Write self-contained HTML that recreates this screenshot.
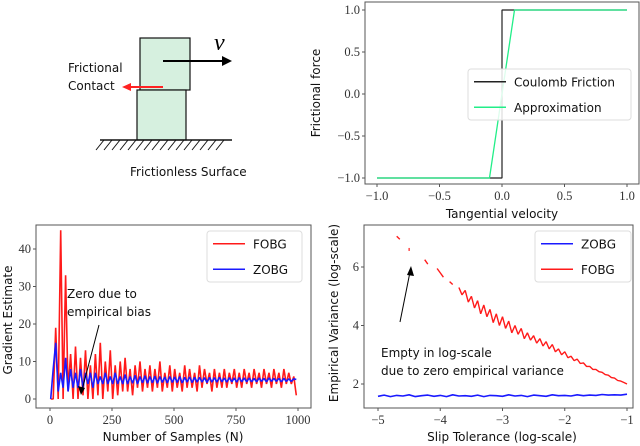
<!DOCTYPE html>
<html><head><meta charset="utf-8"><style>
body{margin:0;background:#fff;width:640px;height:446px;overflow:hidden}
svg{position:absolute;left:0;top:0}
.tk{font-family:"Liberation Serif",serif;font-size:12.5px;fill:#333}
.lb{font-family:"DejaVu Sans","Liberation Sans",sans-serif;font-size:12px;fill:#111}
.lg{font-family:"DejaVu Sans","Liberation Sans",sans-serif;font-size:12px;fill:#111}
</style></head><body>
<svg id="s" width="640" height="446" xmlns="http://www.w3.org/2000/svg">
<g>
<rect x="140" y="38" width="50" height="52" fill="#d6f0df" stroke="#111" stroke-width="1.2"/>
<rect x="137" y="90" width="49" height="50" fill="#d6f0df" stroke="#111" stroke-width="1.2"/>
<line x1="100" y1="140" x2="232" y2="140" stroke="#111" stroke-width="1.5"/>
<g id="hatch" stroke="#111" stroke-width="1"></g>
<line x1="163" y1="61" x2="224" y2="61" stroke="#000" stroke-width="2"/>
<polygon points="232,61 222,56 222,66" fill="#000"/>
<text x="214" y="50" font-family="Liberation Serif,serif" font-style="italic" font-size="24" fill="#000">v</text>
<line x1="163" y1="87" x2="130" y2="87" stroke="#f22" stroke-width="2"/>
<polygon points="122,87 131,83 131,91" fill="#f22"/>
<text x="68" y="72" class="lb" font-size="11">Frictional</text>
<text x="68" y="90" class="lb" font-size="11">Contact</text>
<text x="130" y="176" class="lb" font-size="11">Frictionless Surface</text>
</g>
<g id="c1"></g>
<g id="c2"></g>
<g id="c3"></g>
</svg>
<script>
// ---- data ----
const fricX = [-1.0, 0.0, 0.0, 1.0];
const coulombY = [-1, -1, 1, 1];
const approxX = [-1.0, -0.1, 0.1, 1.0];
const approxY = [-1, -1, 1, 1];
const fricXTicks = [-1.0, -0.5, 0.0, 0.5, 1.0];
const fricYTicks = [-1.0, -0.5, 0.0, 0.5, 1.0];
const fricXTickLabels = ["\u22121.0","\u22120.5","0.0","0.5","1.0"];
const fricYTickLabels = ["\u22121.0","\u22120.5","0.0","0.5","1.0"];

const fobg = [0,0,19,0,45,0,33,2,12,0, 14,0,11,1,13,0,9,0,12,1, 15,0,10,2,13,0,9,1,10,2, 11,2,8,1,9,3,10,2,8,3, 9,2,8,3,10,2,7,3,9,2, 8,3,7,2,9,3,8,3,7,2, 9,3,8,4,7,2,8,3,7,3, 8,3,7,4,8,3,7,3,8,4, 7,3,8,4,7,3,8,4,7,3, 8,4,7,3,8,4,7,4,6,1];
const zobg = [0,8,15,2,7,3,11,2,8,3, 7,3,8,3,7,4,7,3,7,4, 6,4,7,4,6,4,7,4,6,4, 6.5,4,6,4.2,6.3,4,6,4.3,6.2,4.2, 6,4.3,6.1,4.2,6,4.4,5.9,4.3,6,4.4, 5.9,4.4,6,4.3,5.8,4.5,5.9,4.4,5.8,4.5, 5.8,4.5,5.7,4.4,5.8,4.5,5.7,4.5,5.8,4.6, 5.6,4.5,5.7,4.6,5.6,4.5,5.7,4.6,5.6,4.6, 5.6,4.6,5.5,4.6,5.6,4.7,5.5,4.6,5.6,4.7, 5.5,4.7,5.5,4.6,5.5,4.7,5.4,4.7,5.4,5.2];
const gradXTicks = [0,250,500,750,1000];
const gradYTicks = [0,10,20,30,40];

const varFobg = [null,null,null,null,null,null,7.05,6.95,null,null,6.6,null,null,null,null,6.25,6.1,null,null,5.95,5.8,5.65,null,5.5,5.4,null,5.3,5.05,5.2,4.8,5.0,4.6,4.85,4.4,4.7,4.3,4.55,4.1,4.4,4.0,4.3,3.9,4.15,3.75,4.0,3.7,3.9,3.55,3.75,3.5,3.65,3.4,3.55,3.3,3.45,3.2,3.35,3.1,3.2,3.0,3.1,2.9,2.95,2.8,2.85,2.7,2.72,2.6,2.6,2.5,2.5,2.42,2.4,2.32,2.3,2.22,2.2,2.12,2.1,2.05,2.0];
const varZobg = [1.58,1.62,1.57,1.61,1.59,1.63,1.57,1.6,1.62,1.58,1.61,1.57,1.63,1.59,1.6,1.58,1.62,1.57,1.61,1.6,1.58,1.63,1.59,1.61,1.57,1.62,1.6,1.58,1.63,1.6,1.61,1.59,1.63,1.6,1.62,1.61,1.64,1.62,1.63,1.62,1.65];
const varXTicks = [-5,-4,-3,-2,-1];
const varYTicks = [2,4,6];

const NS="http://www.w3.org/2000/svg";
function mk(parent,tag,attrs){const e=document.createElementNS(NS,tag);for(const k in attrs)e.setAttribute(k,attrs[k]);parent.appendChild(e);return e;}
function lin(d0,d1,r0,r1){return v=>r0+(v-d0)*(r1-r0)/(d1-d0);}

// hatching
const h=document.getElementById('hatch');
for(let x=104;x<=230;x+=8){const l=mk(h,'line',{x1:x,y1:140,x2:x-8,y2:150});

}

function frame(g,x0,y0,x1,y1){const r=mk(g,'rect',{x:x0,y:y0,width:x1-x0,height:y1-y0,fill:'none',stroke:'#555','stroke-width':1});

}
function xtick(g,x,yb,label){const l=mk(g,'line',{x1:x,y1:yb,x2:x,y2:yb+3,stroke:'#555'});


const t=mk(g,'text',{x:x,y:yb+16,'text-anchor':'middle','class':'tk'});t.textContent=label;

}
function ytick(g,y,xl,label){const l=mk(g,'line',{x1:xl-3,y1:y,x2:xl,y2:y,stroke:'#555'});


const t=mk(g,'text',{x:xl-5,y:y+4,'text-anchor':'end','class':'tk'});t.textContent=label;

}
function txt(g,x,y,s,cls,extra){const t=mk(g,'text',Object.assign({x:x,y:y,'class':cls},extra||{}));t.textContent=s;return t;}
function path(g,xs,ys,X,Y,color,w){let d='';let pen=false;const dots=[];
for(let i=0;i<xs.length;i++){if(ys[i]==null){pen=false;continue;}
const px=X(xs[i]),py=Y(ys[i]);
const isolated=(i==0||ys[i-1]==null)&&(i==xs.length-1||ys[i+1]==null);
if(isolated){dots.push([px,py]);pen=false;continue;}
d+=(pen?'L':'M')+px.toFixed(1)+' '+py.toFixed(1);pen=true;}
const p=mk(g,'path',{d:d,fill:'none',stroke:color,'stroke-width':w,'stroke-linejoin':'bevel'});
dots.forEach(([px,py])=>{const r=mk(g,'rect',{x:px-0.6,y:py-1.5,width:1.2,height:3,fill:color});

});
return p;}
function legend(g,x,y,w,hgt,items){const r=mk(g,'rect',{x:x,y:y,width:w,height:hgt,rx:3,fill:'#fff','fill-opacity':0.85,stroke:'#ddd'});


items.forEach((it,i)=>{const yy=y+hgt/items.length*(i+0.5);
const l=mk(g,'line',{x1:x+6,y1:yy,x2:x+38,y2:yy,stroke:it[1],'stroke-width':1.5});


const t=txt(g,x+46,yy+4.5,it[0],'lg');

});}

// chart 1
{const g=document.getElementById('c1');const X=lin(-1,1,377,627),Y=lin(-1,1,178,10);
frame(g,365,2,639,184);
fricXTicks.forEach((v,i)=>xtick(g,X(v),184,fricXTickLabels[i]));
fricYTicks.forEach((v,i)=>ytick(g,Y(v),365,fricYTickLabels[i]));
const p1=path(g,fricX,coulombY,X,Y,'#222',1.2);


const p2=path(g,approxX,approxY,X,Y,'#22ee88',1.3);


legend(g,468,69,163,51,[['Coulomb Friction','#222'],['Approximation','#22ee88']]);
const xl=txt(g,502,218,'Tangential velocity','lb',{'text-anchor':'middle'});


const yl=txt(g,0,0,'Frictional force','lb',{'text-anchor':'middle',transform:'translate(320,93) rotate(-90)'});

}

// chart 2
{const g=document.getElementById('c2');const X=lin(0,1000,50,298),Y=lin(0,40,399,249);
frame(g,36,225,311,408);
gradXTicks.forEach(v=>xtick(g,X(v),408,String(v)));
gradYTicks.forEach(v=>ytick(g,Y(v),36,String(v)));
const ns=fobg.map((_,i)=>i*10+3);
const p1=path(g,ns,fobg,X,Y,'#ff1a1a',1.6);


const p2=path(g,ns,zobg,X,Y,'#1a1aff',1.6);


legend(g,207,231,95,51,[['FOBG','#ff1a1a'],['ZOBG','#1a1aff']]);
const a1=txt(g,67,298,'Zero due to','lb',{'font-size':11});


const a2=txt(g,67,316,'empirical bias','lb',{'font-size':11});


const ar=mk(g,'line',{x1:99,y1:325,x2:82,y2:390,stroke:'#000','stroke-width':1});


const ah=mk(g,'polygon',{points:'81,395 78,386 85,388',fill:'#000'});


const xl=txt(g,173,441,'Number of Samples (N)','lb',{'text-anchor':'middle','font-size':13});


const yl=txt(g,0,0,'Gradient  Estimate','lb',{'text-anchor':'middle',transform:'translate(12,320) rotate(-90)'});

}

// chart 3
{const g=document.getElementById('c3');const X=lin(-5,-1,378,627),Y=lin(2,6,384,267);
frame(g,364,225,633,408);
varXTicks.forEach(v=>xtick(g,X(v),408,v<0?'\u2212'+Math.abs(v):String(v)));
varYTicks.forEach(v=>ytick(g,Y(v),364,String(v)));
const xz=varZobg.map((_,i)=>-5+i*0.1);
const p1=path(g,xz,varZobg,X,Y,'#1a1aff',1.6);


const xf=varFobg.map((_,i)=>-5+i*0.05);
const p2=path(g,xf,varFobg,X,Y,'#ff1a1a',1.4);


legend(g,535,231,96,51,[['ZOBG','#1a1aff'],['FOBG','#ff1a1a']]);
const a1=txt(g,381,357,'Empty in log-scale','lb',{'font-size':11});


const a2=txt(g,381,375,'due to zero empirical variance','lb',{'font-size':11});


const ar=mk(g,'line',{x1:400,y1:322,x2:410,y2:272,stroke:'#000','stroke-width':1});


const ah=mk(g,'polygon',{points:'411,266 407,275 414,276',fill:'#000'});


const xl=txt(g,502,441,'Slip Tolerance (log-scale)','lb',{'text-anchor':'middle','font-size':13});


const yl=txt(g,0,0,'Empirical Variance (log-scale)','lb',{'text-anchor':'middle',transform:'translate(338,313) rotate(-90)'});

}
</script>
</body></html>
